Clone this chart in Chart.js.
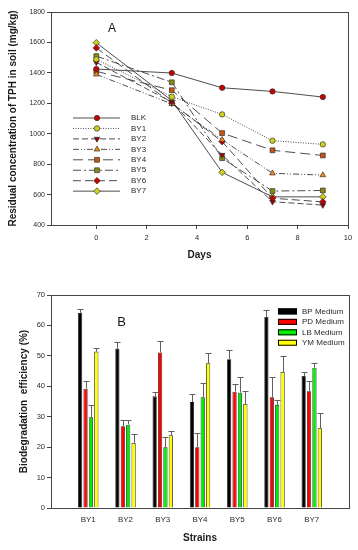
<!DOCTYPE html>
<html>
<head>
<meta charset="utf-8">
<script src="https://cdn.jsdelivr.net/npm/chart.js@4.4.0/dist/chart.umd.min.js"></script>
<style>
  html, body { margin: 0; padding: 0; background: #fff; }
  .panel { position: absolute; left: 0; width: 358px; height: 275px; }
  #panel-a { top: 0; }
  #panel-b { top: 275px; }
</style>
</head>
<body>
<div class="panel" id="panel-a"><canvas id="chart-a"></canvas></div>
<div class="panel" id="panel-b"><canvas id="chart-b"></canvas></div>
<script>
const FONT = '"Liberation Sans", Arial, sans-serif';

// --- panel A: residual TPH (mg/kg) by day
const days = [0, 3, 5, 7, 9];
const dayTicks = [0, 2, 4, 6, 8, 10];
const blk = [1425, 1399, 1302, 1278, 1241];
const by1 = [1489, 1243, 1127, 954, 930];
const by2 = [1469, 1208, 860, 553, 531];
const by3 = [1390, 1196, 960, 740, 728];
const by4 = [1410, 1286, 1004, 891, 857];
const by5 = [1510, 1338, 839, 623, 627];
const by6 = [1564, 1201, 948, 576, 552];
const by7 = [1598, 1218, 746, 585, 585];

// --- panel B: biodegradation efficiency (%) per strain and medium
const strains = ["BY1", "BY2", "BY3", "BY4", "BY5", "BY6", "BY7"];
const bpMedium = [64.1, 52.4, 36.7, 34.8, 48.9, 62.8, 43.4];
const bpErr    = [1.4, 2.3, 1.5, 2.6, 3.1, 2.4, 1.2];
const pdMedium = [39.2, 26.9, 51.1, 20.0, 38.2, 36.4, 38.4];
const pdErr    = [2.6, 2.0, 3.7, 4.7, 2.5, 6.8, 3.5];
const lbMedium = [29.8, 27.4, 20.0, 36.4, 37.9, 33.9, 46.1];
const lbErr    = [4.1, 1.5, 3.4, 4.8, 5.3, 1.5, 1.5];
const ymMedium = [51.4, 21.4, 23.9, 47.6, 34.2, 44.7, 26.2];
const ymErr    = [1.1, 2.8, 1.4, 3.4, 4.2, 5.1, 4.9];

const seriesA = [
  { label: "BLK", values: blk, fill: "#c80000", style: "circle",   rot: 0,   r: 2.7, dash: [] },
  { label: "BY1", values: by1, fill: "#cfd21a", style: "circle",   rot: 0,   r: 2.7, dash: [1, 1.5] },
  { label: "BY2", values: by2, fill: "#960000", style: "triangle", rot: 180, r: 3.3, dash: [6, 3] },
  { label: "BY3", values: by3, fill: "#ff8a10", style: "triangle", rot: 0,   r: 3.3, dash: [6, 2, 1, 2, 1, 2] },
  { label: "BY4", values: by4, fill: "#c85410", style: "rect",     rot: 0,   r: 3.4, dash: [10, 5] },
  { label: "BY5", values: by5, fill: "#8a8a10", style: "rect",     rot: 0,   r: 3.4, dash: [8, 3, 2, 3] },
  { label: "BY6", values: by6, fill: "#c80000", style: "rectRot",  rot: 0,   r: 3.3, dash: [8, 4] },
  { label: "BY7", values: by7, fill: "#cfd21a", style: "rectRot",  rot: 0,   r: 3.3, dash: [] },
];

const AXIS = "#444";
const TEXT = "#2a2a2a";

// box round the plot area
const frame = {
  id: "frame",
  afterDraw(chart) {
    const { ctx, chartArea: a } = chart;
    ctx.save();
    ctx.strokeStyle = AXIS;
    ctx.lineWidth = 1;
    ctx.strokeRect(Math.round(a.left) + 0.5, Math.round(a.top) + 0.5,
      Math.round(a.right - a.left), Math.round(a.bottom - a.top));
    ctx.restore();
  },
};

function panelLetter(text, x, y, size) {
  return {
    id: "letter" + text,
    afterDraw(chart) {
      const ctx = chart.ctx;
      ctx.save();
      ctx.fillStyle = "#111";
      ctx.font = `${size}px ${FONT}`;
      ctx.textAlign = "center";
      ctx.textBaseline = "middle";
      ctx.fillText(text, x, y);
      ctx.restore();
    },
  };
}

// legend of panel A: line sample with its marker
const legendA = {
  id: "legendA",
  afterDraw(chart) {
    const ctx = chart.ctx;
    chart.data.datasets.forEach((ds, i) => {
      const y = 118 + i * 10.45;
      ctx.save();
      ctx.strokeStyle = ds.borderColor;
      ctx.lineWidth = ds.borderWidth;
      ctx.setLineDash(ds.borderDash);
      ctx.beginPath();
      ctx.moveTo(73, y);
      ctx.lineTo(120, y);
      ctx.stroke();
      ctx.setLineDash([]);
      ctx.fillStyle = ds.pointBackgroundColor;
      ctx.strokeStyle = ds.pointBorderColor;
      ctx.lineWidth = ds.pointBorderWidth;
      Chart.helpers.drawPoint(ctx, {
        pointStyle: ds.pointStyle, rotation: ds.pointRotation,
        radius: ds.pointRadius, borderWidth: ds.pointBorderWidth,
      }, 97, y);
      ctx.fillStyle = TEXT;
      ctx.font = `8px ${FONT}`;
      ctx.textBaseline = "middle";
      ctx.fillText(ds.label, 131, y);
      ctx.restore();
    });
  },
};

const legendB = {
  id: "legendB",
  afterDraw(chart) {
    const ctx = chart.ctx;
    chart.data.datasets.forEach((ds, i) => {
      const y = 36.4 + i * 10.45;
      ctx.save();
      ctx.fillStyle = ds.backgroundColor;
      ctx.strokeStyle = "#000";
      ctx.lineWidth = 1;
      ctx.fillRect(278, y - 3, 19, 6);
      ctx.strokeRect(278.5, y - 2.5, 18, 5);
      ctx.fillStyle = TEXT;
      ctx.font = `8px ${FONT}`;
      ctx.textBaseline = "middle";
      ctx.fillText(ds.label, 302, y);
      ctx.restore();
    });
  },
};

// upward error bars with a cap
const errorBars = {
  id: "errorBars",
  afterDatasetsDraw(chart) {
    const ctx = chart.ctx;
    const yScale = chart.scales.y;
    ctx.save();
    ctx.strokeStyle = "#606060";
    ctx.lineWidth = 1;
    chart.data.datasets.forEach((ds, di) => {
      const meta = chart.getDatasetMeta(di);
      meta.data.forEach((bar, i) => {
        const v = ds.data[i];
        if (v === null || v === undefined) return;
        const top = Math.round(yScale.getPixelForValue(v + ds.errors[i])) + 0.5;
        const x = Math.round(bar.x) + 0.5;
        ctx.beginPath();
        ctx.moveTo(x, bar.y);
        ctx.lineTo(x, top);
        ctx.moveTo(x - 3, top);
        ctx.lineTo(x + 3, top);
        ctx.stroke();
      });
    });
    ctx.restore();
  },
};

function tickFont(size) {
  return { family: FONT, size: size };
}
function titleFont() {
  return { family: FONT, size: 10, weight: "bold" };
}
const plain = (v) => String(v);

new Chart(document.getElementById("chart-a"), {
  type: "line",
  data: {
    datasets: seriesA.map((s) => ({
      label: s.label,
      data: days.map((d, i) => ({ x: d, y: s.values[i] })),
      borderColor: "#3a3a3a",
      borderWidth: 0.9,
      borderDash: s.dash,
      pointStyle: s.style,
      pointRotation: s.rot,
      pointRadius: s.r,
      pointBackgroundColor: s.fill,
      pointBorderColor: "#303030",
      pointBorderWidth: 0.7,
      tension: 0,
    })),
  },
  options: {
    responsive: true,
    maintainAspectRatio: false,
    animation: false,
    layout: { padding: { top: 12, right: 10, left: 0, bottom: 0 } },
    plugins: { legend: { display: false }, tooltip: { enabled: false } },
    scales: {
      x: {
        type: "linear",
        min: -1.8,
        max: 10,
        afterBuildTicks: (s) => { s.ticks = dayTicks.map((v) => ({ value: v })); },
        afterFit: (s) => { s.height = 50; },
        grid: { drawOnChartArea: false, tickLength: 4, color: AXIS },
        border: { color: AXIS },
        ticks: { font: tickFont(7.5), color: TEXT, padding: 4, maxRotation: 0, autoSkip: false, callback: plain },
        title: { display: true, text: "Days", font: titleFont(), color: "#1a1a1a", padding: { top: 0, bottom: 14 } },
      },
      y: {
        min: 400,
        max: 1800,
        afterFit: (s) => { s.width = 51; },
        grid: { drawOnChartArea: false, tickLength: 4, color: AXIS },
        border: { color: AXIS },
        ticks: { stepSize: 200, font: tickFont(7), color: TEXT, padding: 2, callback: plain },
        title: {
          display: true, text: "Residual concentration of TPH in soil (mg/kg)",
          font: titleFont(), color: "#1a1a1a", padding: { top: 7, bottom: 0 },
        },
      },
    },
  },
  plugins: [frame, legendA, panelLetter("A", 112, 29, 12)],
});

function padded(arr) {
  return [null, ...arr, null];
}

new Chart(document.getElementById("chart-b"), {
  type: "bar",
  data: {
    labels: ["", ...strains, ""],
    datasets: [
      { label: "BP Medium", data: padded(bpMedium), errors: padded(bpErr), backgroundColor: "#000000" },
      { label: "PD Medium", data: padded(pdMedium), errors: padded(pdErr), backgroundColor: "#ff0000" },
      { label: "LB Medium", data: padded(lbMedium), errors: padded(lbErr), backgroundColor: "#00ee00" },
      { label: "YM Medium", data: padded(ymMedium), errors: padded(ymErr), backgroundColor: "#ffff00" },
    ].map((d) => Object.assign(d, {
      borderColor: "#1a1a1a",
      borderWidth: 0.8,
      categoryPercentage: 0.58,
      barPercentage: 0.78,
    })),
  },
  options: {
    responsive: true,
    maintainAspectRatio: false,
    animation: false,
    layout: { padding: { top: 20, right: 9, left: 0, bottom: 0 } },
    plugins: { legend: { display: false }, tooltip: { enabled: false } },
    scales: {
      x: {
        type: "category",
        offset: false,
        afterFit: (s) => { s.height = 42; },
        grid: { display: false, drawTicks: false },
        border: { color: AXIS },
        ticks: { font: tickFont(8), color: TEXT, padding: 7, maxRotation: 0, autoSkip: false },
        title: { display: true, text: "Strains", font: titleFont(), color: "#1a1a1a", padding: { top: 0, bottom: 6 } },
      },
      y: {
        min: 0,
        max: 70,
        afterFit: (s) => { s.width = 51; },
        grid: { drawOnChartArea: false, tickLength: 4, color: AXIS },
        border: { color: AXIS },
        ticks: { stepSize: 10, font: tickFont(7.5), color: TEXT, padding: 2, callback: plain },
        title: {
          display: true, text: "Biodegradation  efficiency (%)",
          font: titleFont(), color: "#1a1a1a", padding: { top: 18, bottom: 0 },
        },
      },
    },
  },
  plugins: [frame, errorBars, legendB, panelLetter("B", 121.5, 47, 13)],
});
</script>
</body>
</html>
